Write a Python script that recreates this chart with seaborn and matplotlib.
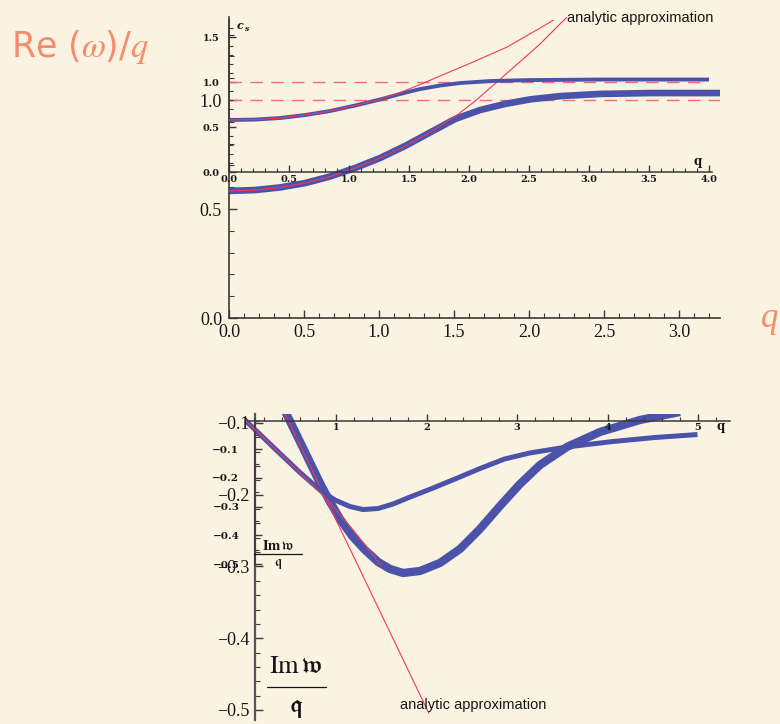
import matplotlib
matplotlib.use("Agg")
import matplotlib.pyplot as plt
from matplotlib.lines import Line2D
from matplotlib.ticker import MultipleLocator
import seaborn as sns

# ---------------- data ----------------
# upper panel, inset frame: speed of sound c_s(q)
cs_q = [0.0, 0.217, 0.425, 0.633, 0.842, 1.05, 1.258, 1.425, 1.592, 1.758, 1.925, 2.175,
        2.508, 3.092, 4.0]
cs_val = [0.578, 0.583, 0.600, 0.633, 0.678, 0.739, 0.806, 0.867, 0.922, 0.961, 0.989, 1.011,
          1.022, 1.028, 1.028]
cs_fit_q = [0.0, 0.217, 0.425, 0.633, 0.842, 1.05, 1.258, 1.425, 1.592, 1.758, 2.033, 2.317,
            2.592, 2.758]
cs_fit_val = [0.578, 0.583, 0.600, 0.633, 0.678, 0.739, 0.806, 0.883, 0.972, 1.067, 1.222,
              1.389, 1.600, 1.733]

# upper panel, main frame: Re(omega)/q
re_q = [0.0, 0.173, 0.34, 0.507, 0.673, 0.84, 1.007, 1.173, 1.34, 1.507, 1.673, 1.84, 2.007,
        2.207, 2.473, 2.807, 3.273]
re_val = [0.583, 0.587, 0.599, 0.619, 0.649, 0.688, 0.734, 0.789, 0.851, 0.913, 0.954, 0.982,
          1.003, 1.018, 1.028, 1.032, 1.032]
re_fit_q = [0.0, 0.173, 0.34, 0.507, 0.673, 0.84, 1.007, 1.173, 1.34, 1.407, 1.52, 1.64, 1.74,
            1.907, 2.073, 2.253]
re_fit_val = [0.583, 0.587, 0.599, 0.619, 0.649, 0.688, 0.734, 0.789, 0.851, 0.881, 0.931,
              0.995, 1.055, 1.156, 1.257, 1.381]

# lower panel, inset frame: Im w / q
gam_q = [0.0, 0.271, 0.602, 0.823, 0.989, 1.155, 1.298, 1.464, 1.630, 1.818, 2.072, 2.315,
         2.591, 2.862, 3.138, 3.547, 4.055, 4.519, 4.994]
gam_val = [0.0, -0.0819, -0.1812, -0.2422, -0.2770, -0.2997, -0.3101, -0.3066, -0.2909,
           -0.2666, -0.2352, -0.2038, -0.1672, -0.1341, -0.1132, -0.0923, -0.0732, -0.0592,
           -0.0488]
gam_fit_q = [0.0, 0.3, 0.6, 0.9, 1.2, 1.5]
gam_fit_val = [0.0, -0.090, -0.182, -0.275, -0.385, -0.505]

# lower panel, main frame: Im w / q
im_q = [0.0, 0.187, 0.333, 0.433, 0.5, 0.567, 0.647, 0.733, 0.82, 0.9, 0.987, 1.1, 1.233,
        1.367, 1.5, 1.633, 1.767, 1.9, 2.08, 2.3, 2.567, 2.833]
im_val = [0.0, -0.0777, -0.1404, -0.1836, -0.2101, -0.2338, -0.2575, -0.2770, -0.2937,
          -0.3035, -0.3091, -0.3063, -0.2951, -0.2756, -0.2477, -0.2157, -0.1850, -0.1585,
          -0.1334, -0.1125, -0.0958, -0.0847]
im_fit_q = [0.0, 1.16]
im_fit_val = [0.0, -0.505]

ref_level = 1.0

# tick positions and labels
re_xticks = [0.0, 0.5, 1.0, 1.5, 2.0, 2.5, 3.0]
re_xlabels = ["0.0", "0.5", "1.0", "1.5", "2.0", "2.5", "3.0"]
re_yticks = [0.0, 0.5, 1.0]
re_ylabels = ["0.0", "0.5", "1.0"]
cs_xticks = [0.0, 0.5, 1.0, 1.5, 2.0, 2.5, 3.0, 3.5, 4.0]
cs_xlabels = ["0.0", "0.5", "1.0", "1.5", "2.0", "2.5", "3.0", "3.5", "4.0"]
cs_yticks = [0.0, 0.5, 1.0, 1.5]
cs_ylabels = ["0.0", "0.5", "1.0", "1.5"]
im_yticks = [-0.1, -0.2, -0.3, -0.4, -0.5]
im_ylabels = ["\u22120.1", "\u22120.2", "\u22120.3", "\u22120.4", "\u22120.5"]
gam_xticks = [1, 2, 3, 4, 5]
gam_xlabels = ["1", "2", "3", "4", "5"]
gam_yticks = [-0.1, -0.2, -0.3, -0.4, -0.5]
gam_ylabels = ["\u22120.1", "\u22120.2", "\u22120.3", "\u22120.4", "\u22120.5"]

# ---------------- style ----------------
BG = "#fbf3e1"
BLUE = "#4b52aa"
RED = "#f2385a"
DASH = "#f26a7c"
SALMON = "#f58c6e"
INK = "#161616"
AXIS = "#3a3a3a"

sns.set_style("ticks")
plt.rcParams["font.family"] = ["DejaVu Sans"]
plt.rcParams["mathtext.fontset"] = "stix"

W, H = 780, 724
fig = plt.figure(figsize=(W / 100, H / 100), dpi=100, facecolor=BG)


def frame(x0, x1, ytop, ybot):
    return [x0 / W, 1 - ybot / H, (x1 - x0) / W, (ybot - ytop) / H]


def fpos(x, y):
    return x / W, 1 - y / H


def base(ax):
    ax.patch.set_visible(False)
    for s in ("top", "right"):
        ax.spines[s].set_visible(False)


def big_ticks(ax, axis, pad):
    ax.tick_params(axis=axis, which="major", direction="in", length=6, width=1.0,
                   color=AXIS, labelcolor=INK, labelsize=13, pad=pad)
    ax.tick_params(axis=axis, which="minor", direction="in", length=3.5, width=0.8, color=AXIS)
    labels = ax.get_xticklabels() if axis == "x" else ax.get_yticklabels()
    for lbl in labels:
        lbl.set_fontfamily("Liberation Serif")


def small_ticks(ax, axis, pad, size=7.0):
    ax.tick_params(axis=axis, which="major", direction="in", length=5, width=1.0,
                   color=AXIS, labelcolor=INK, labelsize=size, pad=pad)
    ax.tick_params(axis=axis, which="minor", direction="in", length=3, width=0.8, color=AXIS)
    labels = ax.get_xticklabels() if axis == "x" else ax.get_yticklabels()
    for lbl in labels:
        lbl.set_fontfamily("DejaVu Serif")
        lbl.set_fontweight("bold")


def curve(ax, x, y, color, lw, z):
    sns.lineplot(x=x, y=y, ax=ax, color=color, linewidth=lw, estimator=None,
                 sort=False, zorder=z, solid_capstyle="butt", solid_joinstyle="round")


# ---- upper panel, main frame: Re(omega)/q ----
ax_re = fig.add_axes(frame(229, 720, 17, 318))
base(ax_re)
ax_re.set_xlim(0, 3.273)
ax_re.set_ylim(0, 1.381)
ax_re.set_xticks(re_xticks, labels=re_xlabels)
ax_re.set_yticks(re_yticks, labels=re_ylabels)
ax_re.xaxis.set_minor_locator(MultipleLocator(0.1))
ax_re.yaxis.set_minor_locator(MultipleLocator(0.1))
big_ticks(ax_re, "x", 4)
big_ticks(ax_re, "y", 5)
for s in ("left", "bottom"):
    ax_re.spines[s].set_color(AXIS)
    ax_re.spines[s].set_linewidth(1.2)
ax_re.hlines(ref_level, 0, 3.273, colors=DASH, linestyles=(0, (9, 6)), linewidth=1.0, zorder=1)
curve(ax_re, re_q, re_val, BLUE, 4.8, 2)
curve(ax_re, re_fit_q, re_fit_val, RED, 0.8, 3)

# ---- upper panel, inset frame: c_s(q) ----
ax_cs = fig.add_axes(frame(229, 712, 20, 172))
base(ax_cs)
ax_cs.set_xlim(0, 4.025)
ax_cs.set_ylim(0, 1.69)
ax_cs.set_xticks(cs_xticks, labels=cs_xlabels)
ax_cs.set_yticks(cs_yticks, labels=cs_ylabels)
ax_cs.xaxis.set_minor_locator(MultipleLocator(0.1))
ax_cs.yaxis.set_minor_locator(MultipleLocator(0.1))
small_ticks(ax_cs, "x", 2)
small_ticks(ax_cs, "y", 7)
for s in ("left", "bottom"):
    ax_cs.spines[s].set_color(AXIS)
    ax_cs.spines[s].set_linewidth(1.1)
ax_cs.hlines(ref_level, 0, 3.95, colors=DASH, linestyles=(0, (9, 6)), linewidth=1.0, zorder=1)
curve(ax_cs, cs_q, cs_val, BLUE, 2.8, 2)
curve(ax_cs, cs_fit_q, cs_fit_val, RED, 0.8, 3)

# ---- lower panel, main frame: Im w / q ----
ax_im = fig.add_axes(frame(255, 720, 414, 720))
base(ax_im)
ax_im.spines["bottom"].set_visible(False)
ax_im.set_xlim(0, 3.1)
ax_im.set_ylim(-0.514, -0.0875)
ax_im.set_xticks([])
ax_im.set_yticks(im_yticks, labels=im_ylabels)
ax_im.yaxis.set_minor_locator(MultipleLocator(0.02))
big_ticks(ax_im, "y", 4)
ax_im.spines["left"].set_color("#555555")
ax_im.spines["left"].set_linewidth(1.6)
curve(ax_im, im_q, im_val, BLUE, 6.0, 2)
curve(ax_im, im_fit_q, im_fit_val, RED, 0.8, 3)

# ---- lower panel, inset frame: Im w / q ----
ax_gam = fig.add_axes(frame(245.5, 729.7, 419.1, 564.9))
base(ax_gam)
ax_gam.set_xlim(0, 5.35)
ax_gam.set_ylim(-0.503, 0.005)
ax_gam.spines["bottom"].set_position(("data", 0))
ax_gam.spines["left"].set_position(("data", 0.1))
ax_gam.set_xticks(gam_xticks, labels=gam_xlabels)
ax_gam.set_yticks(gam_yticks, labels=gam_ylabels)
ax_gam.xaxis.set_minor_locator(MultipleLocator(0.2))
ax_gam.yaxis.set_minor_locator(MultipleLocator(0.05))
small_ticks(ax_gam, "x", 2)
small_ticks(ax_gam, "y", 11, size=7.5)
for s in ("left", "bottom"):
    ax_gam.spines[s].set_color(AXIS)
    ax_gam.spines[s].set_linewidth(1.1)
curve(ax_gam, gam_q, gam_val, BLUE, 3.6, 2)
curve(ax_gam, gam_fit_q, gam_fit_val, RED, 0.8, 3)

# ---------------- annotations ----------------
fig.text(*fpos(11, 57), "Re ($\\omega$)/$q$", color=SALMON, fontsize=25,
         family="DejaVu Sans", va="baseline", ha="left")
fig.text(*fpos(770, 327), "q", color=SALMON, fontsize=25, family="Liberation Serif",
         style="italic", va="baseline", ha="center")

fig.text(*fpos(567, 22), "analytic approximation", color=INK, fontsize=10.5,
         family="Liberation Sans", va="baseline", ha="left")
fig.text(*fpos(400, 709), "analytic approximation", color=INK, fontsize=10.5,
         family="Liberation Sans", va="baseline", ha="left")

# inset axis names
fig.text(*fpos(237, 29), "c", color=INK, fontsize=8, family="DejaVu Serif",
         weight="bold", style="italic", va="baseline", ha="left")
fig.text(*fpos(245, 31), "s", color=INK, fontsize=5.5, family="DejaVu Serif",
         weight="bold", style="italic", va="baseline", ha="left")
fig.text(*fpos(698, 165), "q", color=INK, fontsize=8.5, family="DejaVu Serif",
         weight="bold", va="baseline", ha="center")
fig.text(*fpos(721, 430), "q", color=INK, fontsize=8.5, family="DejaVu Serif",
         weight="bold", va="baseline", ha="center")

# small fraction Im w / q (inset)
fig.text(*fpos(278, 550), "$\\mathbf{Im}\\,\\mathfrak{w}$", color=INK, fontsize=10.5,
         va="baseline", ha="center")
fig.add_artist(Line2D([254 / W, 302 / W], [1 - 554 / H] * 2, color=INK, lw=0.9))
fig.text(*fpos(278, 566), "$\\mathfrak{q}$", color=INK, fontsize=10.5,
         va="baseline", ha="center")

# large fraction Im w / q (main frame)
fig.text(*fpos(296, 673), "$\\mathrm{Im}\\,\\mathfrak{w}$", color=INK, fontsize=19,
         va="baseline", ha="center")
fig.add_artist(Line2D([267 / W, 326 / W], [1 - 687 / H] * 2, color=INK, lw=0.9))
fig.text(*fpos(296, 712), "$\\mathfrak{q}$", color=INK, fontsize=19,
         va="baseline", ha="center")

fig.savefig("out.png", dpi=100, facecolor=BG)
